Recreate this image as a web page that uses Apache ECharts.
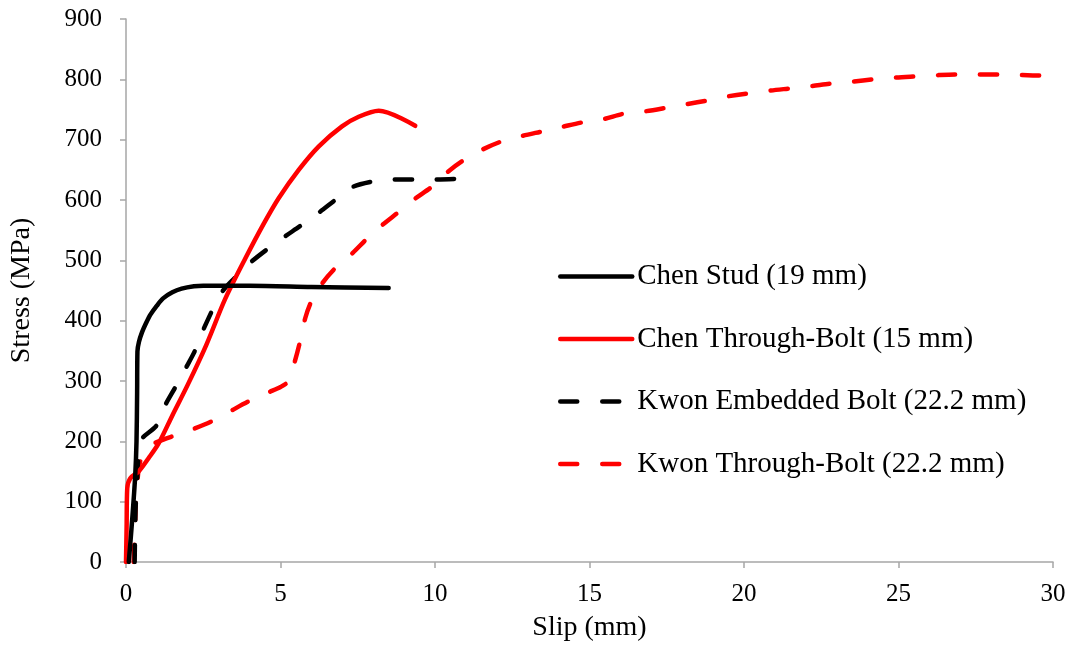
<!DOCTYPE html>
<html>
<head>
<meta charset="utf-8">
<script src="https://cdn.jsdelivr.net/npm/echarts@6/dist/echarts.min.js"></script>
<style>
html,body{margin:0;padding:0;background:#fff;}
#chart{width:1070px;height:647px;}
</style>
</head>
<body>
<div id="chart"></div>
<script>
const seriesNames = [
  "Chen Stud (19 mm)",
  "Chen Through-Bolt (15 mm)",
  "Kwon Embedded Bolt (22.2 mm)",
  "Kwon Through-Bolt (22.2 mm)"
];
const xTicks = { min: 0, max: 30, interval: 5 };
const yTicks = { min: 0, max: 900, interval: 100 };

const chenStud = [[0.09,0],[0.2,70],[0.3,145],[0.34,200],[0.36,280],[0.37,349],[0.42,365],[0.52,381],[0.65,396],[0.79,410],[1.0,425],[1.2,437],[1.5,447],[1.8,453],[2.2,457],[2.5,458],[4,458],[6,456],[8.5,454]];
const chenThroughBolt = [[0,0],[0.02,60],[0.04,122],[0.14,139],[0.41,150],[0.73,172],[1.06,197],[1.5,243],[2.0,294],[2.6,360],[3.21,436],[3.86,503],[4.45,560],[4.94,603],[5.59,650],[6.24,689],[6.99,722],[7.53,738],[8.18,748],[9.36,723]];
const kwonEmbedded = [[0.28,0],[0.3,68],[0.32,101],[0.36,136],[0.38,160],[0.45,195],[0.52,205],[1.0,227],[1.27,260],[1.6,290],[1.92,320],[2.24,351],[2.51,386],[3.1,447],[3.54,472],[4.02,496],[4.56,518],[5.1,538],[5.64,557],[6.24,579],[6.72,598],[7.31,621],[7.91,630],[8.6,634],[9.31,634],[9.96,634],[10.66,635]];
const kwonThroughBolt = [[0.25,0],[0.27,30],[0.3,70],[0.32,100],[0.38,140],[0.45,165],[0.7,190],[1.06,200],[1.6,210],[2.2,221],[2.85,235],[3.45,252],[4.0,267],[4.6,281],[5.0,290],[5.26,300],[5.45,330],[5.63,365],[5.8,404],[6.0,432],[6.35,462],[6.77,487],[7.31,511],[7.8,536],[8.28,558],[8.82,580],[9.35,602],[9.9,622],[10.4,646],[10.9,665],[11.55,684],[12.2,698],[12.8,706],[13.5,714],[14.1,721],[14.8,729],[15.45,734],[16.1,743],[16.8,747],[17.5,753],[18.15,759],[18.83,765],[19.5,772],[20.8,781],[21.5,785],[22.2,789],[22.8,793],[23.5,796],[24.2,800],[24.9,803],[25.6,805],[26.3,807],[26.9,808],[27.6,808],[28.3,808],[29,807],[29.7,806],[30,805]];

const seriesData = [chenStud, chenThroughBolt, kwonEmbedded, kwonThroughBolt];
const seriesColors = ["#000000", "#ff0000", "#000000", "#ff0000"];
const seriesDashed = [false, false, true, true];

const font = "'Liberation Serif', 'Times New Roman', serif";
const chart = echarts.init(document.getElementById('chart'), null, {renderer: 'canvas'});
chart.setOption({
  animation: false,
  backgroundColor: '#ffffff',
  grid: { left: 124, right: 17, top: 19, bottom: 83, containLabel: false },
  legend: {
    orient: 'vertical',
    left: 558,
    top: 262,
    padding: 0,
    itemWidth: 72,
    itemHeight: 29,
    itemGap: 33.5,
    itemStyle: { opacity: 0, borderWidth: 0 },
    lineStyle: { width: 4.5, cap: 'round' },
    textStyle: { fontFamily: font, fontSize: 29, color: '#000' },
    data: seriesNames
  },
  xAxis: {
    type: 'value',
    min: xTicks.min, max: xTicks.max, interval: xTicks.interval,
    name: 'Slip (mm)', nameLocation: 'middle', nameGap: 52,
    nameTextStyle: { fontFamily: font, fontSize: 28, color: '#000' },
    axisLine: { show: true, lineStyle: { color: '#a6a6a6', width: 1.5 } },
    axisTick: { show: true, length: 6, lineStyle: { color: '#a6a6a6', width: 1.5 } },
    axisLabel: { fontFamily: font, fontSize: 25, color: '#000', margin: 20 },
    splitLine: { show: false }
  },
  yAxis: {
    type: 'value',
    min: yTicks.min, max: yTicks.max, interval: yTicks.interval,
    name: 'Stress (MPa)', nameLocation: 'middle', nameGap: 90,
    nameTextStyle: { fontFamily: font, fontSize: 28, color: '#000' },
    axisLine: { show: true, lineStyle: { color: '#a6a6a6', width: 1.5 } },
    axisTick: { show: true, length: 6, lineStyle: { color: '#a6a6a6', width: 1.5 } },
    axisLabel: { fontFamily: font, fontSize: 25, color: '#000', margin: 24 },
    splitLine: { show: false }
  },
  series: seriesNames.map((n, i) => ({
    name: n,
    type: 'line',
    data: seriesData[i],
    showSymbol: false,
    symbol: 'circle',
    symbolSize: 0,
    smooth: 0.3,
    lineStyle: {
      color: seriesColors[i],
      width: 4.5,
      type: seriesDashed[i] ? [17, 25] : 'solid',
      cap: 'round',
      join: 'round'
    },
    itemStyle: { color: seriesColors[i] },
    z: 10 - i
  }))
});
</script>
</body>
</html>
